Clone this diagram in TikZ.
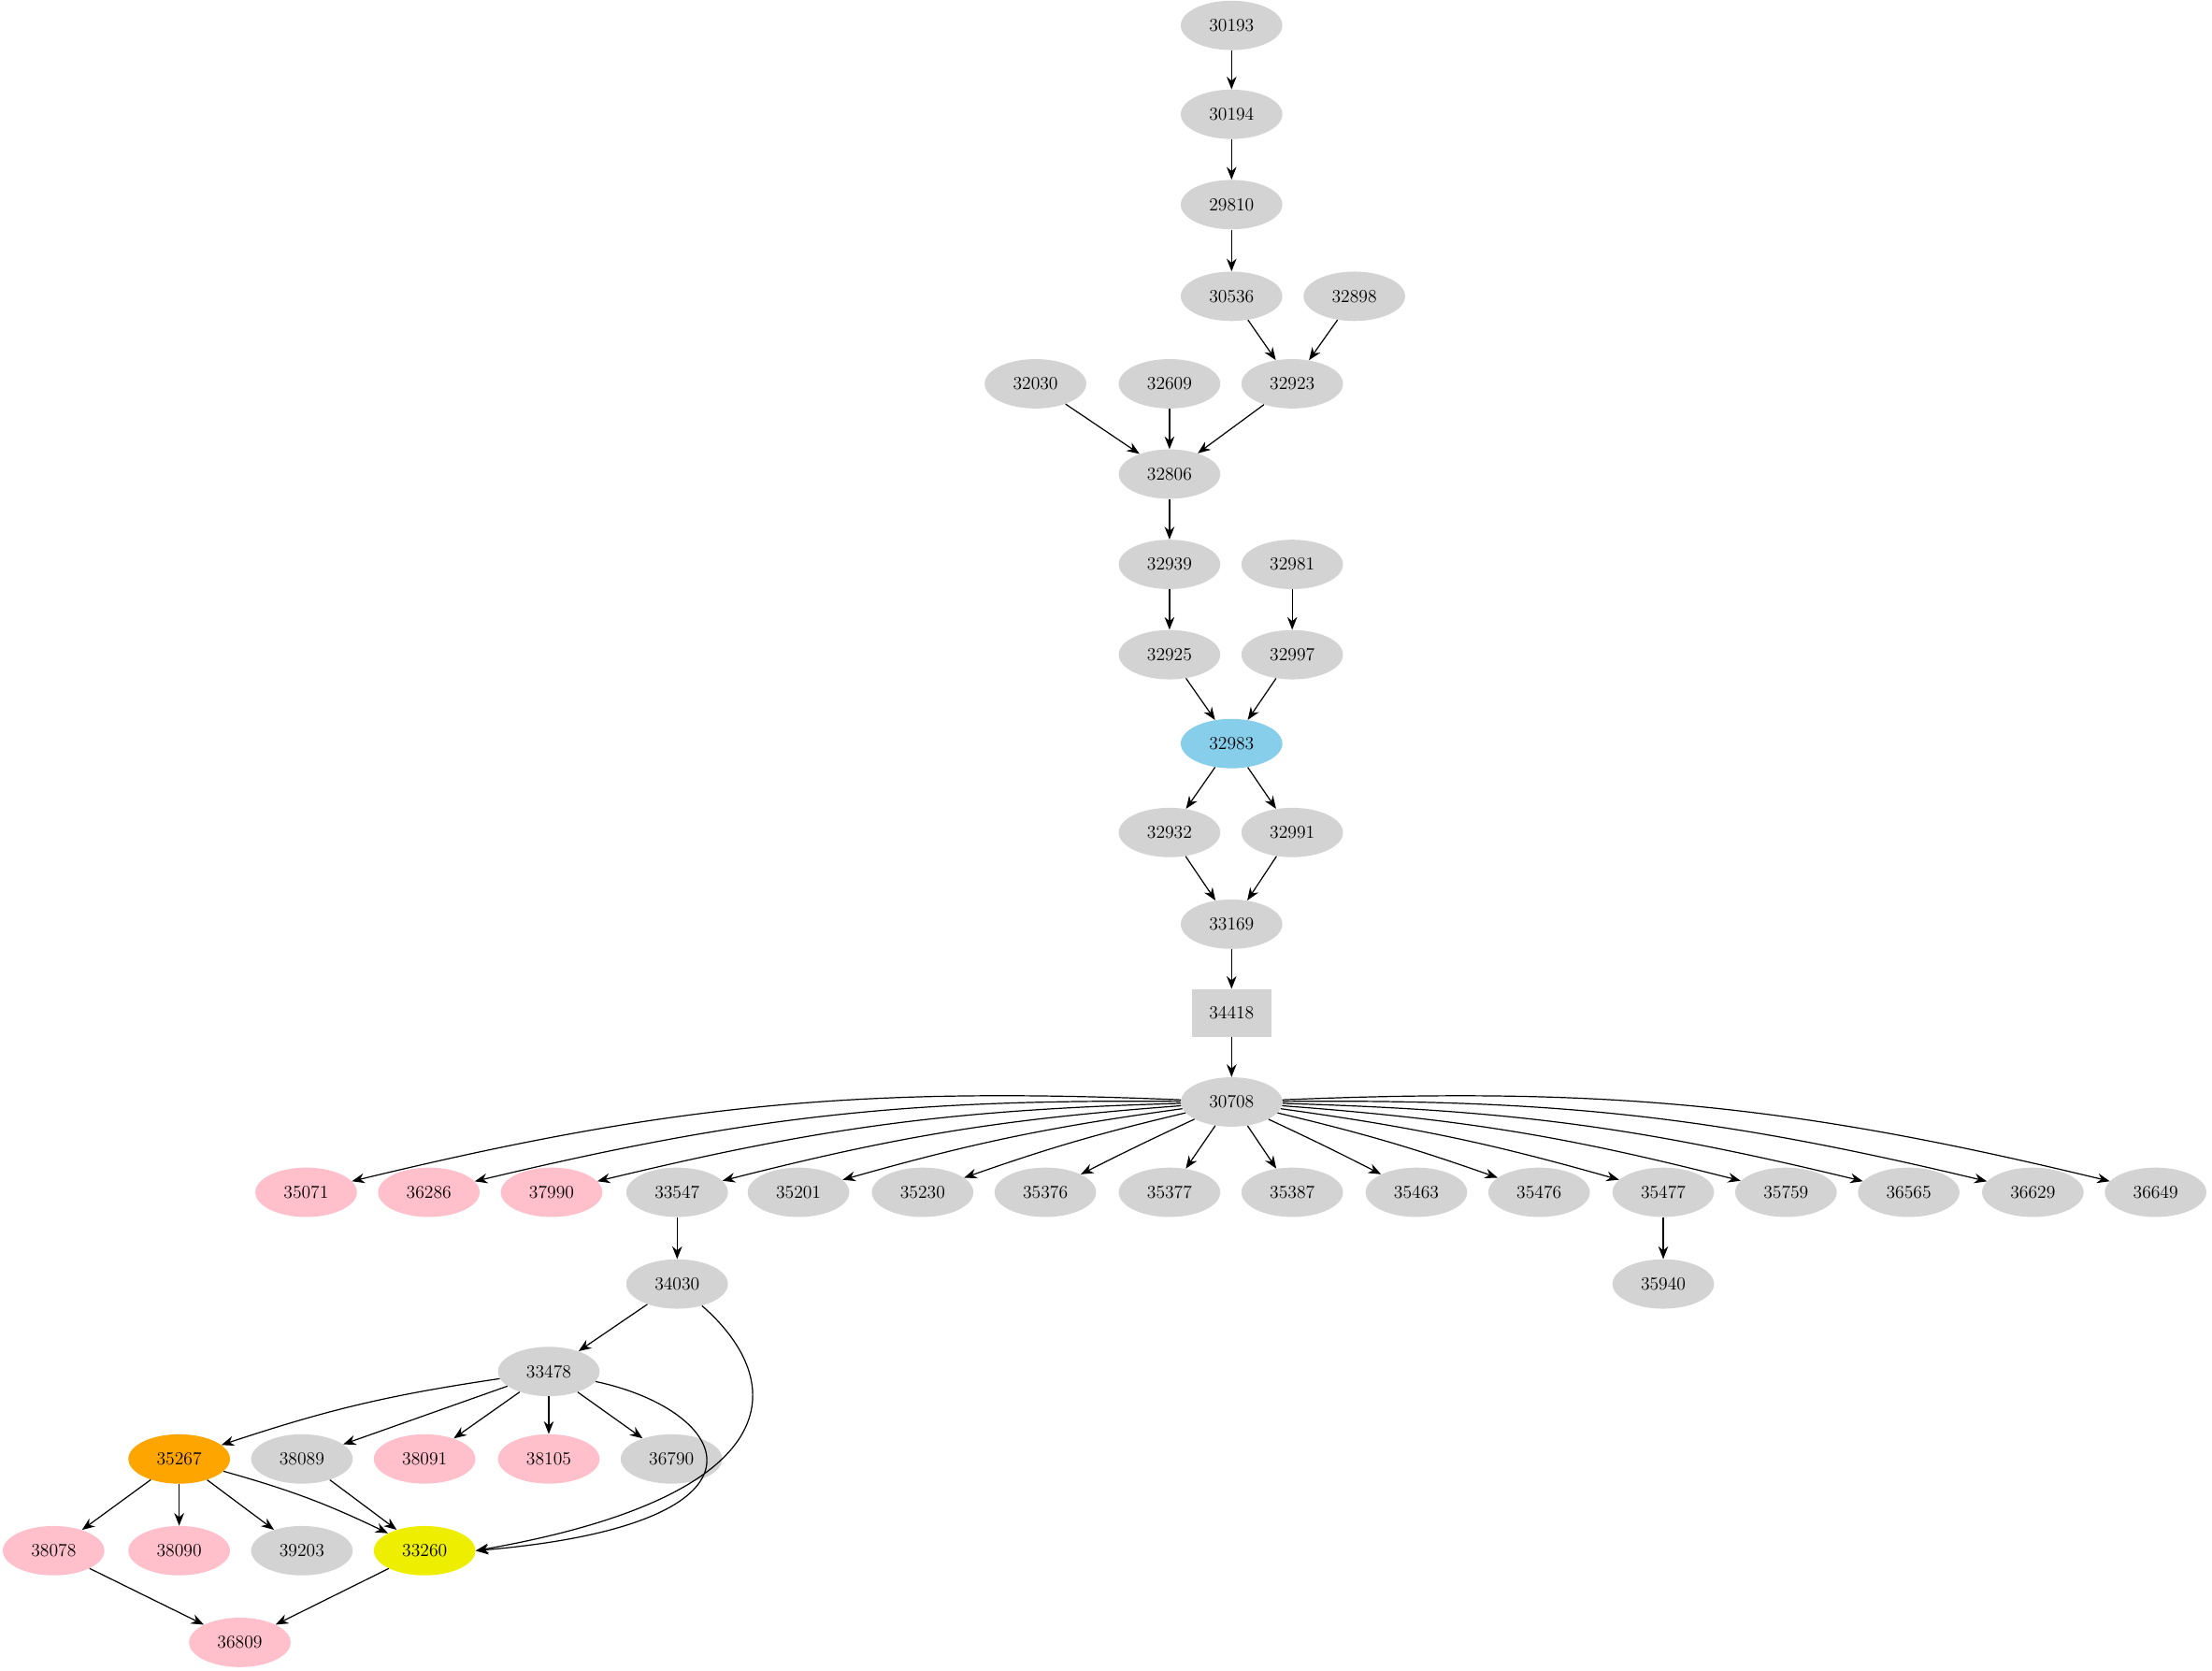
\documentclass[tikz,border=0pt]{standalone}
\usepackage{tikz}
\usepackage{xcolor}
\usetikzlibrary{calc,shapes,positioning,arrows.meta}

\definecolor{nodegray}{RGB}{211,211,211}
\definecolor{nodepink}{RGB}{255,192,203}
\definecolor{nodesky}{RGB}{135,206,235}
\definecolor{nodeorange}{RGB}{255,165,0}
\definecolor{nodeyellow}{RGB}{238,238,0}

\tikzset{
    gnode/.style={ellipse, fill=nodegray, minimum width=72pt, minimum height=35pt, inner sep=0pt, font=\fontsize{13}{15}\selectfont},
    pnode/.style={gnode, fill=nodepink},
    edge/.style={-{Stealth[length=9pt,width=7pt]}, line width=0.8pt}
}

\begin{document}
\begin{tikzpicture}[x=1pt, y=-1pt]
    \useasboundingbox (0,0) rectangle (1568,1184);

    % upper chain
    \node[gnode] (n30193) at (873,18) {30193};
    \node[gnode] (n30194) at (873,81) {30194};
    \node[gnode] (n29810) at (873,145) {29810};
    \node[gnode] (n30536) at (873,210) {30536};
    \node[gnode] (n32898) at (960,210) {32898};
    \node[gnode] (n32030) at (734,272) {32030};
    \node[gnode] (n32609) at (829,272) {32609};
    \node[gnode] (n32923) at (916,272) {32923};
    \node[gnode] (n32806) at (829,336) {32806};
    \node[gnode] (n32939) at (829,400) {32939};
    \node[gnode] (n32981) at (916,400) {32981};
    \node[gnode] (n32925) at (829,464) {32925};
    \node[gnode] (n32997) at (916,464) {32997};
    \node[gnode, fill=nodesky] (n32983) at (873,527) {32983};
    \node[gnode] (n32932) at (829,590) {32932};
    \node[gnode] (n32991) at (916,590) {32991};
    \node[gnode] (n33169) at (873,655) {33169};
    \node[gnode, rectangle, minimum width=56pt, minimum height=34pt] (n34418) at (873,718) {34418};
    \node[gnode] (n30708) at (873,781) {30708};

    % row under 30708
    \node[pnode] (n35071) at (217,845) {35071};
    \node[pnode] (n36286) at (304,845) {36286};
    \node[pnode] (n37990) at (391,845) {37990};
    \node[gnode] (n33547) at (480,845) {33547};
    \node[gnode] (n35201) at (566,845) {35201};
    \node[gnode] (n35230) at (654,845) {35230};
    \node[gnode] (n35376) at (741,845) {35376};
    \node[gnode] (n35377) at (829,845) {35377};
    \node[gnode] (n35387) at (916,845) {35387};
    \node[gnode] (n35463) at (1004,845) {35463};
    \node[gnode] (n35476) at (1091,845) {35476};
    \node[gnode] (n35477) at (1179,845) {35477};
    \node[gnode] (n35759) at (1266,845) {35759};
    \node[gnode] (n36565) at (1353,845) {36565};
    \node[gnode] (n36629) at (1441,845) {36629};
    \node[gnode] (n36649) at (1528,845) {36649};

    % lower part
    \node[gnode] (n34030) at (480,910) {34030};
    \node[gnode] (n35940) at (1179,910) {35940};
    \node[gnode] (n33478) at (389,972) {33478};
    \node[gnode, fill=nodeorange] (n35267) at (127,1034) {35267};
    \node[gnode] (n38089) at (214,1034) {38089};
    \node[pnode] (n38091) at (301,1034) {38091};
    \node[pnode] (n38105) at (389,1034) {38105};
    \node[gnode] (n36790) at (476,1034) {36790};
    \node[pnode] (n38078) at (38,1099) {38078};
    \node[pnode] (n38090) at (127,1099) {38090};
    \node[gnode] (n39203) at (214,1099) {39203};
    \node[gnode, fill=nodeyellow] (n33260) at (301,1099) {33260};
    \node[pnode] (n36809) at (170,1164) {36809};

    \draw[edge] (n30193) -- (n30194);
    \draw[edge] (n30194) -- (n29810);
    \draw[edge] (n29810) -- (n30536);
    \draw[edge] (n30536) -- (n32923);
    \draw[edge] (n32898) -- (n32923);
    \draw[edge] (n32030) -- (n32806);
    \draw[edge] (n32609) -- (n32806);
    \draw[edge] (n32923) -- (n32806);
    \draw[edge] (n32806) -- (n32939);
    \draw[edge] (n32939) -- (n32925);
    \draw[edge] (n32981) -- (n32997);
    \draw[edge] (n32925) -- (n32983);
    \draw[edge] (n32997) -- (n32983);
    \draw[edge] (n32983) -- (n32932);
    \draw[edge] (n32983) -- (n32991);
    \draw[edge] (n32932) -- (n33169);
    \draw[edge] (n32991) -- (n33169);
    \draw[edge] (n33169) -- (n34418);
    \draw[edge] (n34418) -- (n30708);

    \foreach \t/\b in {35071/8, 36286/7, 37990/6, 33547/5, 35201/4, 35230/3, 35376/1} {
        \draw[edge] (n30708) to[bend right=\b] (n\t);
    }
    \draw[edge] (n30708) -- (n35377);
    \draw[edge] (n30708) -- (n35387);
    \foreach \t/\b in {35463/1, 35476/3, 35477/4, 35759/5, 36565/6, 36629/7, 36649/8} {
        \draw[edge] (n30708) to[bend left=\b] (n\t);
    }

    \draw[edge] (n33547) -- (n34030);
    \draw[edge] (n35477) -- (n35940);
    \draw[edge] (n34030) -- (n33478);
    \draw[edge] (n34030) .. controls (560,980) and (560,1060) .. (n33260.east);
    \draw[edge] (n33478) to[bend right=5] (n35267);
    \draw[edge] (n33478) -- (n38089);
    \draw[edge] (n33478) -- (n38091);
    \draw[edge] (n33478) -- (n38105);
    \draw[edge] (n33478) -- (n36790);
    \draw[edge] (n33478) .. controls (520,1000) and (560,1080) .. (n33260.east);
    \draw[edge] (n35267) -- (n38078);
    \draw[edge] (n35267) -- (n38090);
    \draw[edge] (n35267) -- (n39203);
    \draw[edge] (n35267) to[bend left=5] (n33260);
    \draw[edge] (n38089) -- (n33260);
    \draw[edge] (n38078) -- (n36809);
    \draw[edge] (n33260) -- (n36809);
\end{tikzpicture}
\end{document}
